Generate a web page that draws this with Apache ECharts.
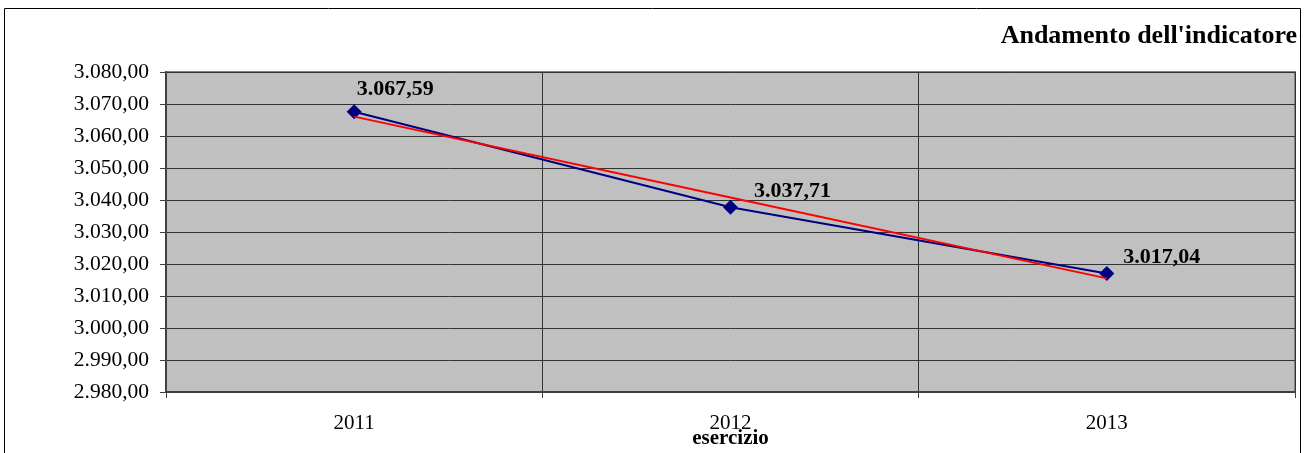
<!DOCTYPE html>
<html><head><meta charset="utf-8">
<script src="https://cdn.jsdelivr.net/npm/echarts@6/dist/echarts.min.js"></script>
<style>html,body{margin:0;padding:0;background:#fff}#c{width:1312px;height:453px}</style>
</head><body><div id="c"></div>
<script>
const categories = ['2011', '2012', '2013'];
const values = [3067.59, 3037.71, 3017.04];
const trendValues = [3066.06, 3040.78, 3015.51];
const yMin = 2980, yMax = 3080, yStep = 10;
const titleText = "Andamento dell'indicatore";
const xName = 'esercizio';

const FONT = "'Liberation Serif','DejaVu Serif','Times New Roman',serif";
function itFmt(v, d) {
  const s = v.toFixed(d).split('.');
  s[0] = s[0].replace(/\B(?=(\d{3})+(?!\d))/g, '.');
  return s.join(',');
}
const labelOffsets = [[-10, -22], [11, -16], [4, -16]];

const chart = echarts.init(document.getElementById('c'), null, {renderer: 'canvas'});
chart.setOption({
  animation: false,
  backgroundColor: '#ffffff',
  title: {
    text: titleText, right: 10, top: 18,
    textStyle: {fontFamily: FONT, fontWeight: 'bold', fontSize: 26, color: '#000'}
  },
  graphic: [{
    type: 'rect', shape: {x: 4.5, y: 8.5, width: 1296, height: 460},
    style: {fill: 'none', stroke: '#000', lineWidth: 1}, z: 100
  }],
  grid: {
    left: 166, right: 17, top: 72, bottom: 61, show: true,
    containLabel: false, outerBoundsMode: 'none',
    backgroundColor: '#c0c0c0', borderColor: '#808080', borderWidth: 2
  },
  xAxis: {
    type: 'category', data: categories, boundaryGap: true,
    name: xName, nameLocation: 'middle', nameGap: 36, nameMoveOverlap: false,
    nameTextStyle: {fontFamily: FONT, fontWeight: 'bold', fontSize: 21, color: '#000'},
    axisLine: {show: true, lineStyle: {color: '#404040', width: 2}},
    axisTick: {show: true, length: 6, lineStyle: {color: '#404040', width: 1}},
    splitLine: {show: true, lineStyle: {color: '#333', width: 1}},
    axisLabel: {fontFamily: FONT, fontSize: 21, color: '#000', margin: 21}
  },
  yAxis: {
    type: 'value', min: yMin, max: yMax, interval: yStep,
    axisLine: {show: true, lineStyle: {color: '#404040', width: 2}},
    axisTick: {show: true, length: 6, lineStyle: {color: '#404040', width: 1}},
    splitLine: {show: true, lineStyle: {color: '#333', width: 1}},
    axisLabel: {fontFamily: FONT, fontSize: 21.5, color: '#000', margin: 17,
      formatter: v => itFmt(v, 2)}
  },
  series: [{
    type: 'line', data: values.map((v, i) => ({
      value: v,
      label: {show: true, position: 'right', offset: labelOffsets[i]}
    })),
    symbol: 'diamond', symbolSize: 15,
    itemStyle: {color: '#000080'},
    lineStyle: {color: '#000080', width: 2},
    label: {fontFamily: FONT, fontWeight: 'bold', fontSize: 22, color: '#000',
      formatter: p => itFmt(p.value, 2)},
    z: 2
  }, {
    type: 'line', data: trendValues, symbol: 'none',
    lineStyle: {color: '#ff0000', width: 2}, z: 3, silent: true
  }]
});
</script></body></html>
